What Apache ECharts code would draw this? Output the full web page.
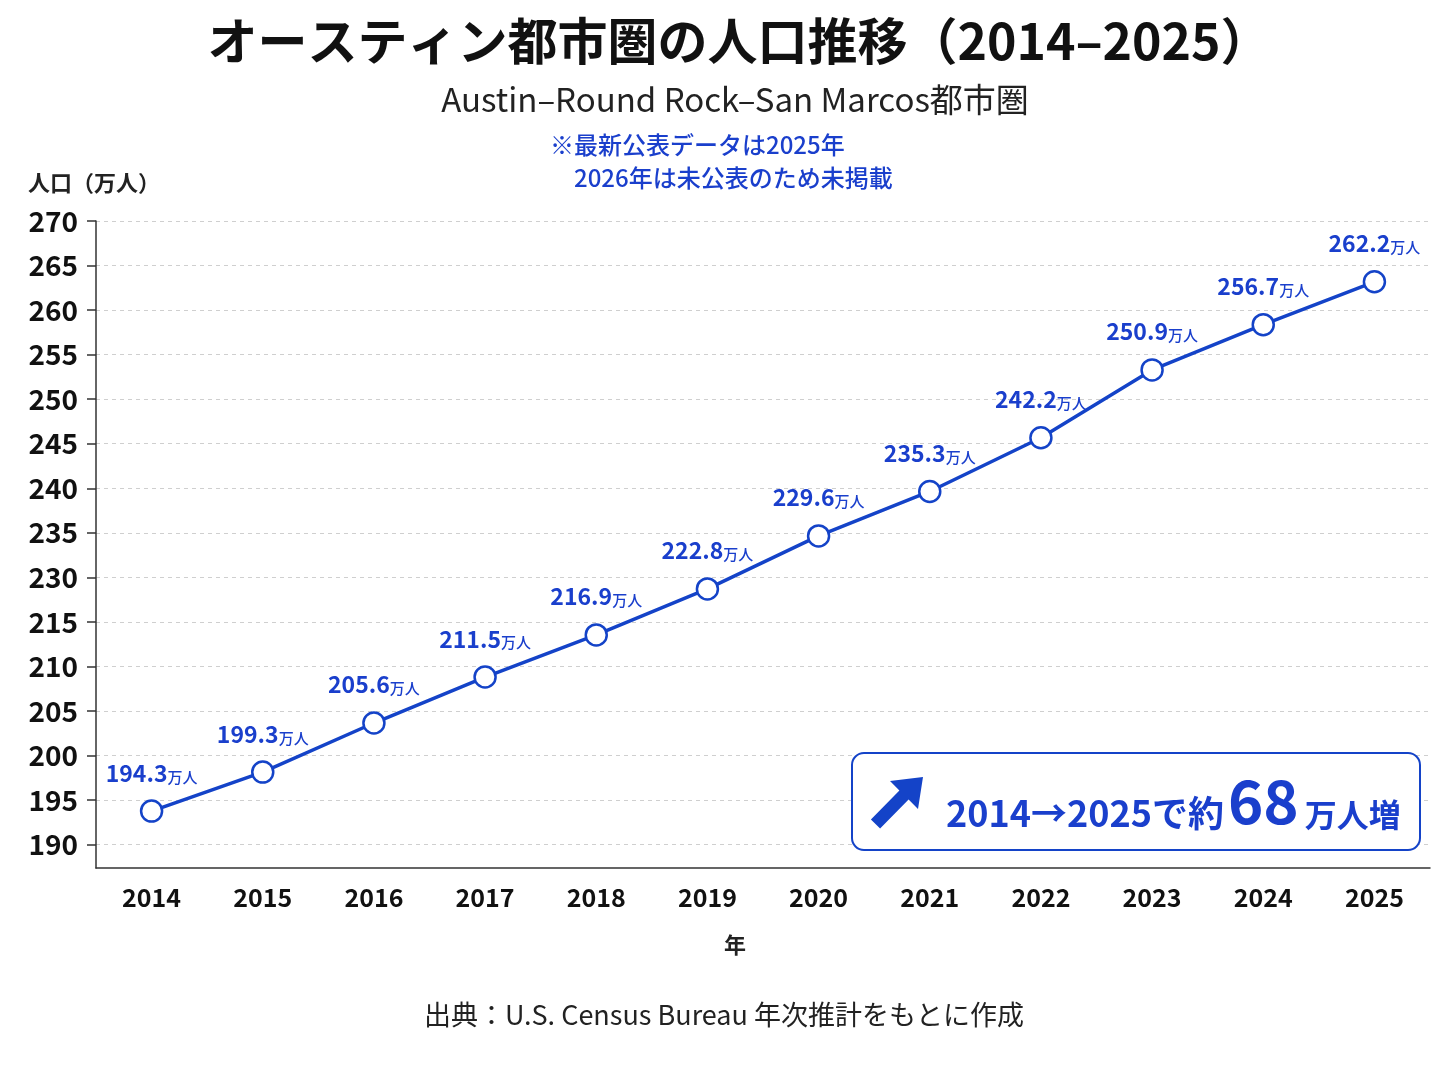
<!DOCTYPE html>
<html>
<head>
<meta charset="utf-8">
<script src="https://cdn.jsdelivr.net/npm/echarts@6/dist/echarts.min.js"></script>
<style>
  html, body { margin: 0; padding: 0; background: #fff; }
  #chart { width: 1448px; height: 1086px; }
</style>
</head>
<body>
<div id="chart"></div>
<script>
  'use strict';

  var years = ['2014', '2015', '2016', '2017', '2018', '2019', '2020', '2021', '2022', '2023', '2024', '2025'];
  var population = [194.3, 199.3, 205.6, 211.5, 216.9, 222.8, 229.6, 235.3, 242.2, 250.9, 256.7, 262.2];
  // tick labels as printed on the reference (225 and 220 are not shown there)
  var yTickLabels = ['190', '195', '200', '205', '210', '215', '230', '235', '240', '245', '250', '255', '260', '265', '270'];

  var BLUE = '#1443c8';
  var TEXT_BLUE = '#1a3fcc';
  var JP = "'Noto Sans CJK JP', 'Noto Sans', sans-serif";

  // labels sit evenly between 190 and 270, the way the reference spaces them
  var yLo = Number(yTickLabels[0]);
  var yHi = Number(yTickLabels[yTickLabels.length - 1]);
  var yStep = (yHi - yLo) / (yTickLabels.length - 1);
  var yTickValues = yTickLabels.map(function (t, i) { return yLo + i * yStep; });

  var chart = echarts.init(document.getElementById('chart'));

  var option = {
    backgroundColor: '#fff',
    textStyle: { fontFamily: JP },
    title: [
      {
        text: 'オースティン都市圏の人口推移（2014–2025）',
        left: 734,
        textAlign: 'center',
        top: 11,
        textStyle: { fontSize: 50, fontWeight: 'bold', color: '#111', fontFamily: JP }
      },
      {
        text: 'Austin–Round Rock–San Marcos都市圏',
        left: 730,
        textAlign: 'center',
        top: 78,
        textStyle: { fontSize: 33, fontWeight: 'normal', color: '#222', fontFamily: JP }
      }
    ],
    grid: { left: 96, right: 18, top: 221, bottom: 218 },
    xAxis: {
      type: 'category',
      data: years,
      boundaryGap: true,
      name: '年',
      nameLocation: 'middle',
      nameGap: 66,
      nameTextStyle: { fontSize: 22, fontWeight: 'bold', color: '#222', fontFamily: JP, padding: [0, 56, 0, 0] },
      axisLine: { lineStyle: { color: '#333', width: 1.5 } },
      axisTick: { alignWithLabel: true, length: 8, lineStyle: { color: '#333', width: 1.5 } },
      axisLabel: { fontSize: 25, fontWeight: 'bold', color: '#111', fontFamily: JP, margin: 17 }
    },
    yAxis: {
      type: 'value',
      min: 187,
      max: 270,
      axisLine: { show: true, lineStyle: { color: '#333', width: 1.5 } },
      axisTick: { show: true, length: 9, customValues: yTickValues, lineStyle: { color: '#333', width: 1.5 } },
      axisLabel: {
        customValues: yTickValues,
        fontSize: 28,
        fontWeight: 'bold',
        color: '#111',
        fontFamily: JP,
        margin: 18,
        formatter: function (v) {
          var i = Math.round((v - yLo) / yStep);
          return yTickLabels[i] || '';
        }
      },
      splitLine: { show: true, lineStyle: { color: '#cfcfcf', type: [4, 4], width: 1 } }
    },
    series: [
      {
        name: '人口',
        type: 'line',
        data: population,
        symbol: 'circle',
        symbolSize: 21,
        lineStyle: { color: BLUE, width: 3.5 },
        itemStyle: { color: '#fff', borderColor: BLUE, borderWidth: 2.5 },
        label: {
          show: true,
          position: 'top',
          distance: 15,
          formatter: function (p) {
            return '{n|' + p.value.toFixed(1) + '}{u|万人}';
          },
          rich: {
            n: { fontSize: 23, fontFamily: JP, fontWeight: 'bold', color: TEXT_BLUE, verticalAlign: 'bottom', lineHeight: 28 },
            u: { fontSize: 15, fontFamily: JP, fontWeight: 500, color: TEXT_BLUE, verticalAlign: 'bottom', lineHeight: 26 }
          }
        },
        z: 3
      }
    ],
    graphic: [
      {
        type: 'text',
        left: 550, top: 133,
        style: { text: '※最新公表データは2025年', fontSize: 24, fontWeight: 500, fill: TEXT_BLUE, fontFamily: JP }
      },
      {
        type: 'text',
        left: 550, top: 166,
        style: { text: '　2026年は未公表のため未掲載', fontSize: 24, fontWeight: 500, fill: TEXT_BLUE, fontFamily: JP }
      },
      {
        type: 'text',
        left: 28, top: 172,
        style: { text: '人口（万人）', fontSize: 22, fontWeight: 'bold', fill: '#222', fontFamily: JP }
      },
      {
        type: 'text',
        left: 'center', top: 1001,
        style: { text: '出典：U.S. Census Bureau 年次推計をもとに作成', fontSize: 27, fill: '#222', fontFamily: JP }
      },
      {
        type: 'group',
        left: 851, top: 752,
        z: 100,
        children: [
          {
            type: 'rect',
            z: 100,
            shape: { x: 0, y: 0, width: 568, height: 97, r: 12 },
            style: { fill: '#fff', stroke: BLUE, lineWidth: 2 }
          },
          {
            // thick ↗ arrow
            type: 'polygon',
            z: 101,
            shape: {
              points: [[71, 24], [66, 56], [56.6, 46.6], [28.1, 75.6], [18.9, 66.4], [47.4, 37.4], [38, 28]]
            },
            style: { fill: BLUE }
          },
          {
            type: 'text',
            z: 101,
            x: 94, y: 78,
            style: {
              text: '{a|2014→2025で約}{b|68}{c|万人増}',
              verticalAlign: 'bottom',
              rich: {
                a: { fontSize: 36, fontWeight: 'bold', fill: TEXT_BLUE, fontFamily: JP, verticalAlign: 'bottom', lineHeight: 50 },
                b: { fontSize: 60, fontWeight: 'bold', fill: TEXT_BLUE, fontFamily: JP, verticalAlign: 'bottom', lineHeight: 66, padding: [0, 6, 0, 4] },
                c: { fontSize: 32, fontWeight: 'bold', fill: TEXT_BLUE, fontFamily: JP, verticalAlign: 'bottom', lineHeight: 48 }
              }
            }
          }
        ]
      }
    ]
  };

  chart.setOption(option);
</script>
</body>
</html>
